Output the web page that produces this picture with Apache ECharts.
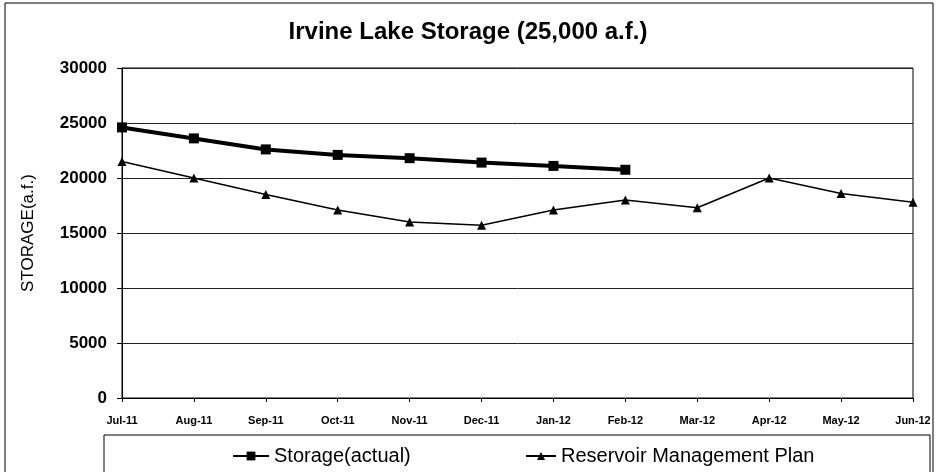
<!DOCTYPE html>
<html>
<head>
<meta charset="utf-8">
<title>Irvine Lake Storage</title>
<script src="https://cdn.jsdelivr.net/npm/echarts@6/dist/echarts.min.js"></script>
<style>
  html, body { margin: 0; padding: 0; background: #fff; }
  #main { width: 936px; height: 472px; }
</style>
</head>
<body>
<div id="main"></div>
<script>
// x categories
var months = ["Jul-11", "Aug-11", "Sep-11", "Oct-11", "Nov-11", "Dec-11",
  "Jan-12", "Feb-12", "Mar-12", "Apr-12", "May-12", "Jun-12"];
// actual storage, only through Feb-12
var storageActual = [24600, 23600, 22600, 22100, 21800, 21400, 21100, 20750];
// reservoir management plan
var managementPlan = [21500, 20000, 18500, 17100, 16000, 15700, 17100, 18000, 17300, 20000, 18600, 17800];

var chart = echarts.init(document.getElementById("main"));

var legendText = { fontSize: 20, color: "#000" };

chart.setOption({
  backgroundColor: "#fff",
  animation: false,
  textStyle: { fontFamily: "Liberation Sans, Arial, sans-serif", color: "#000" },
  title: {
    text: "Irvine Lake Storage (25,000 a.f.)",
    left: "center",
    top: 15,
    textStyle: { fontSize: 24, fontWeight: "bold", color: "#000" }
  },
  grid: {
    left: 122,
    right: 23,
    top: 68,
    bottom: 74,
    show: true,
    borderColor: "#000",
    borderWidth: 1
  },
  // two legends so each item sits where it is in the original
  legend: [
    {
      left: 227,
      top: 441,
      itemWidth: 36,
      itemHeight: 11,
      textStyle: legendText,
      data: ["Storage(actual)"]
    },
    {
      left: 520,
      top: 441,
      itemWidth: 30,
      itemHeight: 10,
      textStyle: legendText,
      data: ["Reservoir Management Plan"]
    }
  ],
  xAxis: {
    type: "category",
    boundaryGap: false,
    data: months,
    axisLine: { lineStyle: { color: "#000", width: 1 } },
    axisTick: { show: true, length: 4, lineStyle: { color: "#000" } },
    axisLabel: { fontSize: 11, fontWeight: "bold", color: "#000", margin: 17 }
  },
  yAxis: {
    type: "value",
    min: 0,
    max: 30000,
    interval: 5000,
    name: "STORAGE(a.f.)",
    nameLocation: "middle",
    nameGap: 85,
    nameTextStyle: { fontSize: 17, color: "#000" },
    axisLine: { show: true, lineStyle: { color: "#000", width: 1 } },
    axisTick: { show: true, length: 5, lineStyle: { color: "#000" } },
    axisLabel: {
      fontSize: 17,
      fontWeight: "bold",
      color: "#000",
      margin: 15,
      formatter: function (v) { return String(v); }
    },
    splitLine: { show: true, lineStyle: { color: "#222", width: 1 } }
  },
  series: [
    {
      name: "Storage(actual)",
      type: "line",
      data: storageActual,
      symbol: "rect",
      symbolSize: 10,
      lineStyle: { color: "#000", width: 4 },
      itemStyle: { color: "#000" }
    },
    {
      name: "Reservoir Management Plan",
      type: "line",
      data: managementPlan,
      symbol: "triangle",
      symbolSize: 9,
      lineStyle: { color: "#000", width: 1.5 },
      itemStyle: { color: "#000" }
    }
  ],
  graphic: [
    {
      // outer frame of the chart
      type: "rect",
      shape: { x: 5, y: 3, width: 928, height: 475 },
      style: { fill: null, stroke: "#000", lineWidth: 1 },
      silent: true
    },
    {
      // legend box
      type: "rect",
      shape: { x: 104, y: 435, width: 826, height: 45 },
      style: { fill: null, stroke: "#000", lineWidth: 1 },
      silent: true
    }
  ]
});
</script>
</body>
</html>
